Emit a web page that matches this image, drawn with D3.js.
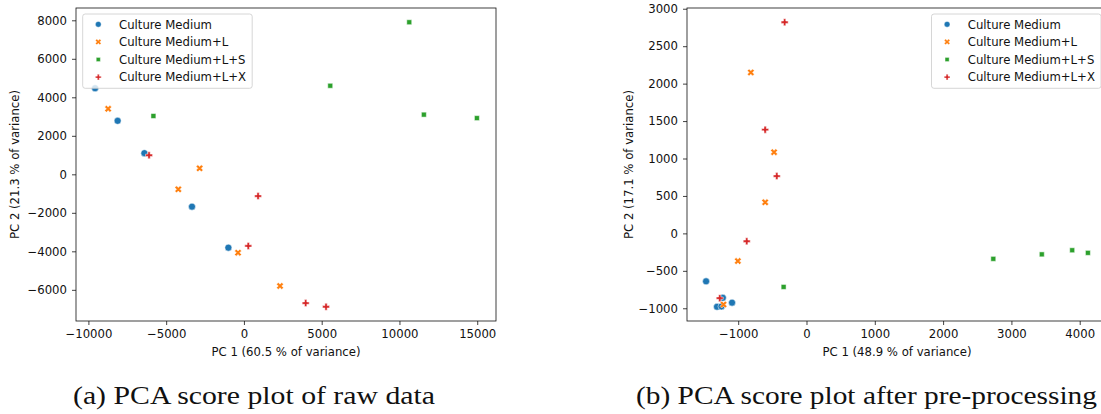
<!DOCTYPE html>
<html>
<head>
<meta charset="utf-8">
<script src="https://cdn.jsdelivr.net/npm/d3@7"></script>
<style>
  html, body { margin: 0; padding: 0; background: #fff; overflow: hidden; }
  svg { display: block; }
</style>
</head>
<body>
<script>
// Sample groups and their colours
const groups = ["Culture Medium", "Culture Medium+L", "Culture Medium+L+S", "Culture Medium+L+X"];
const colors = ["#1f77b4", "#ff7f0e", "#2ca02c", "#d62728"];
const markerKinds = ["circle", "x", "square", "plus"];

// PCA scores [PC1, PC2] on raw data
const rawMedium = [[-9570, 4470], [-8120, 2780], [-6400, 1100], [-3340, -1680], [-1000, -3810]];
const rawL      = [[-8730, 3400], [-4220, -780], [-2850, 310], [-380, -4070], [2320, -5800]];
const rawLS     = [[-5820, 3030], [5550, 4600], [10630, 7900], [11570, 3100], [14980, 2920]];
const rawLX     = [[-6100, 990], [910, -1130], [280, -3720], [3970, -6690], [5280, -6880]];

// PCA scores [PC1, PC2] after pre-processing
const preMedium = [[-1470, -640], [-1225, -860], [-1310, -980], [-1245, -975], [-1090, -925]];
const preL      = [[-815, 2150], [-475, 1085], [-605, 415], [-1005, -370], [-1215, -950]];
const preLS     = [[-335, -715], [2735, -340], [3445, -280], [3890, -225], [4120, -260]];
const preLX     = [[-320, 2820], [-605, 1385], [-435, 765], [-875, -105], [-1270, -865]];

// Tick values
const rawXTicks = [-10000, -5000, 0, 5000, 10000, 15000];
const rawYTicks = [-6000, -4000, -2000, 0, 2000, 4000, 6000, 8000];
const preXTicks = [-1000, 0, 1000, 2000, 3000, 4000];
const preYTicks = [-1000, -500, 0, 500, 1000, 1500, 2000, 2500, 3000];

// Axis titles and captions
const rawXLabel = "PC 1 (60.5 % of variance)";
const rawYLabel = "PC 2 (21.3 % of variance)";
const preXLabel = "PC 1 (48.9 % of variance)";
const preYLabel = "PC 2 (17.1 % of variance)";
const captionA = "(a) PCA score plot of raw data";
const captionB = "(b) PCA score plot after pre-processing";

const W = 1101, H = 414;
const FONT = "'DejaVu Sans', sans-serif";
const FS = 11.7;
const INK = "#111";

const svg = d3.select("body").append("svg")
  .attr("width", W).attr("height", H)
  .attr("viewBox", `0 0 ${W} ${H}`);

svg.append("rect").attr("width", W).attr("height", H).attr("fill", "#fff");

// Marker outlines, centred on the origin, for a marker of size ms
function markerPath(kind, ms) {
  const closed = pts => "M" + pts.map(p => `${p[0] * ms},${p[1] * ms}`).join("L") + "Z";
  if (kind === "circle") {
    const r = ms / 2;
    return `M${r},0A${r},${r} 0 1,1 ${-r},0A${r},${r} 0 1,1 ${r},0Z`;
  }
  if (kind === "x") {
    return closed([[-1, -2], [0, -1], [1, -2], [2, -1], [1, 0], [2, 1],
                   [1, 2], [0, 1], [-1, 2], [-2, 1], [-1, 0], [-2, -1]].map(p => [p[0] / 4, p[1] / 4]));
  }
  if (kind === "square") {
    const h = 0.5 / Math.SQRT2;
    return closed([[-h, -h], [h, -h], [h, h], [-h, h]]);
  }
  // filled plus
  return closed([[-1, -3], [1, -3], [1, -1], [3, -1], [3, 1], [1, 1],
                 [1, 3], [-1, 3], [-1, 1], [-3, 1], [-3, -1], [-1, -1]].map(p => [p[0] / 6, p[1] / 6]));
}

const fmt = d3.format("d");

function drawPanel(opts) {
  const { left, right, top, bottom, series, xTicks, yTicks, xLabel, yLabel, yLabelX, legendSide } = opts;

  // 5 % data margins on each side
  const all = series.flat();
  const xExt = d3.extent(all, d => d[0]);
  const yExt = d3.extent(all, d => d[1]);
  const xm = (xExt[1] - xExt[0]) * 0.05;
  const ym = (yExt[1] - yExt[0]) * 0.05;

  const x = d3.scaleLinear().domain([xExt[0] - xm, xExt[1] + xm]).range([left, right]);
  const y = d3.scaleLinear().domain([yExt[0] - ym, yExt[1] + ym]).range([bottom, top]);

  const g = svg.append("g");

  // points
  const pts = g.append("g");
  series.forEach((data, i) => {
    pts.selectAll(null).data(data).enter().append("path")
      .attr("d", markerPath(markerKinds[i], 7))
      .attr("transform", d => `translate(${x(d[0])},${y(d[1])})`)
      .attr("fill", colors[i])
      .attr("stroke", "#fff")
      .attr("stroke-width", 0.5);
  });

  // axes
  const xAxis = d3.axisBottom(x).tickValues(xTicks).tickFormat(fmt).tickSize(4).tickSizeOuter(0).tickPadding(4.5);
  const yAxis = d3.axisLeft(y).tickValues(yTicks).tickFormat(fmt).tickSize(4).tickSizeOuter(0).tickPadding(5);

  const gx = g.append("g").attr("transform", `translate(0,${bottom})`).call(xAxis);
  const gy = g.append("g").attr("transform", `translate(${left},0)`).call(yAxis);
  [gx, gy].forEach(a => {
    a.select(".domain").remove();
    a.selectAll(".tick line").attr("stroke", INK).attr("stroke-width", 0.8);
    a.selectAll(".tick text").attr("fill", INK).style("font-family", FONT).style("font-size", FS + "px");
  });

  // frame
  g.append("rect")
    .attr("x", left).attr("y", top)
    .attr("width", right - left).attr("height", bottom - top)
    .attr("fill", "none").attr("stroke", INK).attr("stroke-width", 0.8);

  // axis titles
  g.append("text")
    .attr("x", (left + right) / 2).attr("y", 355.5)
    .attr("text-anchor", "middle")
    .style("font-family", FONT).style("font-size", FS + "px").attr("fill", INK)
    .text(xLabel);

  g.append("text")
    .attr("transform", `translate(${yLabelX},${(top + bottom) / 2}) rotate(-90)`)
    .attr("text-anchor", "middle")
    .style("font-family", FONT).style("font-size", FS + "px").attr("fill", INK)
    .text(yLabel);

  // legend
  const lw = 169.5, lh = 74.3;
  const lx = legendSide === "left" ? left + 6.7 : right - 6 - lw;
  const ly = top + 6;
  const leg = g.append("g").attr("transform", `translate(${lx},${ly})`);
  leg.append("rect")
    .attr("width", lw).attr("height", lh).attr("rx", 2.5)
    .attr("fill", "#fff").attr("fill-opacity", 0.8)
    .attr("stroke", "#cccccc").attr("stroke-width", 0.8);
  groups.forEach((name, i) => {
    const cy = 10.3 + i * 17.6;
    leg.append("path")
      .attr("d", markerPath(markerKinds[i], 5.8))
      .attr("transform", `translate(15.6,${cy})`)
      .attr("fill", colors[i])
      .attr("stroke", "#fff").attr("stroke-width", 0.4);
    leg.append("text")
      .attr("x", 36.3).attr("y", cy + 4.2)
      .style("font-family", FONT).style("font-size", FS + "px").attr("fill", INK)
      .text(name);
  });
}

drawPanel({
  left: 76, right: 496, top: 8, bottom: 321,
  series: [rawMedium, rawL, rawLS, rawLX],
  xTicks: rawXTicks, yTicks: rawYTicks,
  xLabel: rawXLabel, yLabel: rawYLabel, yLabelX: 19,
  legendSide: "left"
});

drawPanel({
  left: 687, right: 1107, top: 8, bottom: 321,
  series: [preMedium, preL, preLS, preLX],
  xTicks: preXTicks, yTicks: preYTicks,
  xLabel: preXLabel, yLabel: preYLabel, yLabelX: 632.5,
  legendSide: "right"
});

// sub-figure captions
const CAP_FONT = "'Liberation Serif', 'DejaVu Serif', serif";
[[captionA, 73, 362], [captionB, 636, 461]].forEach(([t, x0, w]) => {
  svg.append("text")
    .attr("x", x0).attr("y", 404)
    .attr("textLength", w).attr("lengthAdjust", "spacingAndGlyphs")
    .style("font-family", CAP_FONT).style("font-size", "25px").attr("fill", "#111")
    .text(t);
});
</script>
</body>
</html>
